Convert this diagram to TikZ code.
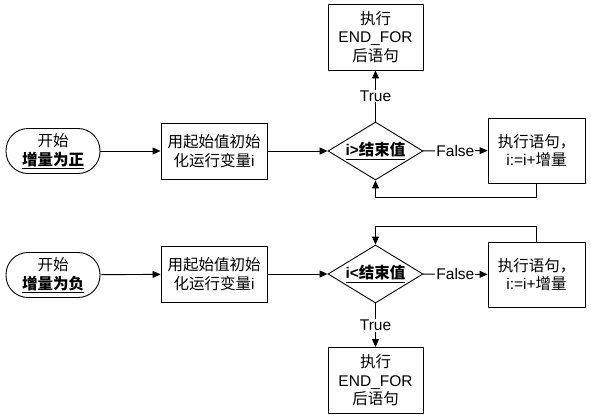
\documentclass[tikz,border=0pt]{standalone}
\usepackage{fontspec}
\setmainfont{Liberation Sans}
\newfontfamily\cjk{Noto Sans CJK SC}
\usetikzlibrary{shapes.geometric,arrows.meta}
\tikzset{
  base/.style={draw, line width=0.9pt, align=center, inner sep=0pt, font=\fontsize{15.5}{18.5}\selectfont},
  term/.style={base, rounded corners=22pt, minimum width=94pt, minimum height=45pt},
  procbox/.style={base, rectangle, minimum width=106pt, minimum height=56pt},
  endbox/.style={base, rectangle, minimum width=95pt, minimum height=66pt},
  actbox/.style={base, rectangle, minimum width=97pt, minimum height=65pt},
  decide/.style={base, diamond, minimum width=95pt, minimum height=58pt, aspect=1.64},
  conn/.style={line width=0.9pt, -{Triangle[length=8pt,width=7pt]}},
  plain/.style={line width=0.9pt},
  lbl/.style={fill=white, inner sep=1pt, font=\fontsize{15.5}{17}\selectfont}
}
\begin{document}
\begin{tikzpicture}[x=1pt,y=-1pt]
\useasboundingbox (0,0) rectangle (591,418);
% top row
\node[term] (s1) at (53,151) {{\cjk 开始}\\{\cjk\bfseries\underline{增量为正}}};
\node[procbox] (b1) at (214,151) {{\cjk 用起始值初始}\\{\cjk 化运行变量}i};
\node[decide] (d1) at (375.5,151) {\underline{\bfseries i>{\cjk 结束值}}};
\node[endbox] (e1) at (375.5,37) {{\cjk 执行}\\END\_FOR\\{\cjk 后语句}};
\node[actbox] (r1) at (536.5,150.5) {{\cjk 执行语句，}\\ i:=i+{\cjk 增量}};
\draw[conn] (s1) -- (b1);
\draw[conn] (b1) -- (d1);
\draw[conn] (d1) -- node[lbl]{True} (e1);
\draw[conn] (d1) -- node[lbl]{False} (r1);
\draw[conn] (r1.south) -- ++(0,14) -| (d1.south);
% bottom row
\node[term] (s2) at (53,275) {{\cjk 开始}\\{\cjk\bfseries\underline{增量为负}}};
\node[procbox] (b2) at (214,274) {{\cjk 用起始值初始}\\{\cjk 化运行变量}i};
\node[decide] (d2) at (375.5,274) {\underline{\bfseries i<{\cjk 结束值}}};
\node[endbox] (e2) at (375.5,380.5) {{\cjk 执行}\\END\_FOR\\{\cjk 后语句}};
\node[actbox] (r2) at (536.5,274.5) {{\cjk 执行语句，}\\ i:=i+{\cjk 增量}};
\draw[conn] (s2) -- (b2);
\draw[conn] (b2) -- (d2);
\draw[conn] (d2) -- node[lbl]{True} (e2);
\draw[conn] (d2) -- node[lbl]{False} (r2);
\draw[conn] (r2.north) -- ++(0,-15) -| (d2.north);
\end{tikzpicture}
\end{document}
